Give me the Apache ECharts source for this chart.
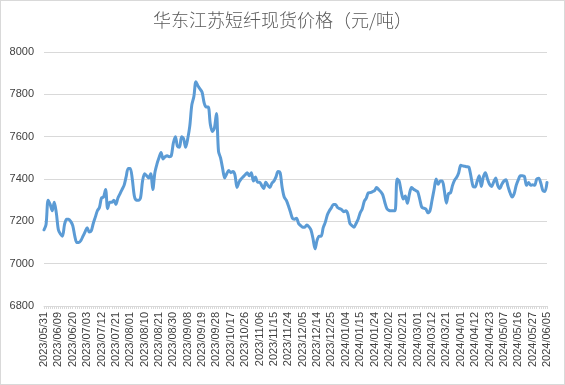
<!DOCTYPE html>
<html>
<head>
<meta charset="utf-8">
<script src="https://cdn.jsdelivr.net/npm/echarts@6/dist/echarts.min.js"></script>
<style>
html,body{margin:0;padding:0;background:#fff;}
#c{width:563px;height:383px;border:1px solid #d9d9d9;}
</style>
</head>
<body>
<div id="c"></div>
<script>
const titleText = "华东江苏短纤现货价格（元/吨）";
const dates = [
"2023/05/31",
"2023/06/01","2023/06/02","2023/06/05","2023/06/06","2023/06/07","2023/06/08","2023/06/09","2023/06/12","2023/06/13","2023/06/14","2023/06/15","2023/06/16","2023/06/19","2023/06/20","2023/06/21","2023/06/26","2023/06/27","2023/06/28","2023/06/29","2023/06/30",
"2023/07/03","2023/07/04","2023/07/05","2023/07/06","2023/07/07","2023/07/10","2023/07/11","2023/07/12","2023/07/13","2023/07/14","2023/07/17","2023/07/18","2023/07/19","2023/07/20","2023/07/21","2023/07/24","2023/07/25","2023/07/26","2023/07/27","2023/07/28","2023/07/31",
"2023/08/01","2023/08/02","2023/08/03","2023/08/04","2023/08/07","2023/08/08","2023/08/09","2023/08/10","2023/08/11","2023/08/14","2023/08/15","2023/08/16","2023/08/17","2023/08/18","2023/08/21","2023/08/22","2023/08/23","2023/08/24","2023/08/25","2023/08/28","2023/08/29","2023/08/30","2023/08/31",
"2023/09/01","2023/09/04","2023/09/05","2023/09/06","2023/09/07","2023/09/08","2023/09/11","2023/09/12","2023/09/13","2023/09/14","2023/09/15","2023/09/18","2023/09/19","2023/09/20","2023/09/21","2023/09/22","2023/09/25","2023/09/26","2023/09/27","2023/09/28",
"2023/10/09","2023/10/10","2023/10/11","2023/10/12","2023/10/13","2023/10/16","2023/10/17","2023/10/18","2023/10/19","2023/10/20","2023/10/23","2023/10/24","2023/10/25","2023/10/26","2023/10/27","2023/10/30","2023/10/31",
"2023/11/01","2023/11/02","2023/11/03","2023/11/06","2023/11/07","2023/11/08","2023/11/09","2023/11/10","2023/11/13","2023/11/14","2023/11/15","2023/11/16","2023/11/17","2023/11/20","2023/11/21","2023/11/22","2023/11/23","2023/11/24","2023/11/27","2023/11/28","2023/11/29","2023/11/30",
"2023/12/01","2023/12/04","2023/12/05","2023/12/06","2023/12/07","2023/12/08","2023/12/11","2023/12/12","2023/12/13","2023/12/14","2023/12/15","2023/12/18","2023/12/19","2023/12/20","2023/12/21","2023/12/22","2023/12/25","2023/12/26","2023/12/27","2023/12/28","2023/12/29",
"2024/01/02","2024/01/03","2024/01/04","2024/01/05","2024/01/08","2024/01/09","2024/01/10","2024/01/11","2024/01/12","2024/01/15","2024/01/16","2024/01/17","2024/01/18","2024/01/19","2024/01/22","2024/01/23","2024/01/24","2024/01/25","2024/01/26","2024/01/29","2024/01/30","2024/01/31",
"2024/02/01","2024/02/02","2024/02/05","2024/02/06","2024/02/07","2024/02/08","2024/02/19","2024/02/20","2024/02/21","2024/02/22","2024/02/23","2024/02/26","2024/02/27","2024/02/28","2024/02/29",
"2024/03/01","2024/03/04","2024/03/05","2024/03/06","2024/03/07","2024/03/08","2024/03/11","2024/03/12","2024/03/13","2024/03/14","2024/03/15","2024/03/18","2024/03/19","2024/03/20","2024/03/21","2024/03/22","2024/03/25","2024/03/26","2024/03/27","2024/03/28","2024/03/29",
"2024/04/01","2024/04/02","2024/04/03","2024/04/08","2024/04/09","2024/04/10","2024/04/11","2024/04/12","2024/04/15","2024/04/16","2024/04/17","2024/04/18","2024/04/19","2024/04/22","2024/04/23","2024/04/24","2024/04/25","2024/04/26","2024/04/29","2024/04/30",
"2024/05/06","2024/05/07","2024/05/08","2024/05/09","2024/05/10","2024/05/13","2024/05/14","2024/05/15","2024/05/16","2024/05/17","2024/05/20","2024/05/21","2024/05/22","2024/05/23","2024/05/24","2024/05/27","2024/05/28","2024/05/29","2024/05/30","2024/05/31",
"2024/06/03","2024/06/04","2024/06/05"
];
const prices = [
7160,7185,7300,7280,7250,7290,7240,7160,7140,7130,
7185,7210,7210,7200,7180,7130,7100,7100,7110,7130,
7150,7170,7150,7155,7190,7220,7250,7265,7310,7315,
7350,7260,7290,7290,7300,7280,7310,7330,7350,7370,
7410,7450,7450,7400,7320,7300,7300,7310,7390,7425,
7415,7405,7425,7350,7430,7470,7500,7525,7495,7505,
7510,7505,7510,7570,7600,7555,7550,7600,7590,7550,
7590,7650,7750,7790,7860,7840,7825,7810,7760,7740,
7740,7660,7625,7640,7710,7530,7500,7450,7405,7425,
7440,7430,7435,7420,7360,7385,7400,7410,7420,7430,
7415,7430,7390,7410,7385,7385,7370,7355,7385,7370,
7360,7380,7390,7410,7435,7430,7360,7315,7300,7275,
7245,7215,7210,7215,7190,7180,7172,7172,7183,7175,
7160,7120,7070,7110,7130,7130,7170,7195,7230,7250,
7265,7280,7280,7265,7260,7255,7245,7250,7235,7190,
7180,7172,7190,7210,7240,7258,7295,7310,7335,7336,
7340,7345,7360,7350,7340,7325,7290,7260,7252,7250,
7250,7250,7400,7390,7340,7305,7320,7285,7330,7360,
7352,7346,7340,7305,7267,7262,7258,7240,7250,7300,
7350,7400,7375,7390,7390,7345,7286,7330,7335,7370,
7395,7408,7430,7465,7462,7460,7458,7455,7410,7365,
7362,7390,7415,7365,7410,7430,7400,7375,7365,7385,
7405,7370,7355,7375,7390,7396,7365,7335,7315,7330,
7370,7396,7415,7415,7412,7370,7384,7370,7373,7370,
7400,7404,7380,7345,7341,7384
];
const yMin = 6800, yMax = 8000, yStep = 200;

const chart = echarts.init(document.getElementById('c'), null, {renderer:'canvas'});
chart.setOption({
  animation:false,
  backgroundColor:'#fff',
  title:{
    text:titleText, left:'center', top:10, padding:0,
    textStyle:{fontFamily:'"Noto Sans CJK SC", sans-serif', fontSize:18, fontWeight:300, color:'#595959'}
  },
  grid:{left:43, right:17, top:51, bottom:78, containLabel:false},
  xAxis:{
    type:'category', data:dates, boundaryGap:false,
    axisLine:{show:true, lineStyle:{color:'#d9d9d9', width:1}},
    axisTick:{show:true, interval:0, length:3, lineStyle:{color:'#d9d9d9'}},
    axisLabel:{interval:6, rotate:90, margin:6, fontSize:11, color:'#404040', fontFamily:'"Liberation Sans", Arial, sans-serif'},
    splitLine:{show:false}
  },
  yAxis:{
    type:'value', min:yMin, max:yMax, interval:yStep,
    axisLine:{show:false}, axisTick:{show:false},
    axisLabel:{fontSize:11, color:'#404040', margin:10, fontFamily:'"Liberation Sans", Arial, sans-serif',
      formatter:function(v){return String(v);}},
    splitLine:{lineStyle:{color:'#d9d9d9', width:1}}
  },
  series:[{
    type:'line', data:prices, showSymbol:false, smooth:0.3,
    lineStyle:{color:'#5b9bd5', width:3, cap:'round', join:'round'},
    itemStyle:{color:'#5b9bd5'}
  }]
});
</script>
</body>
</html>
